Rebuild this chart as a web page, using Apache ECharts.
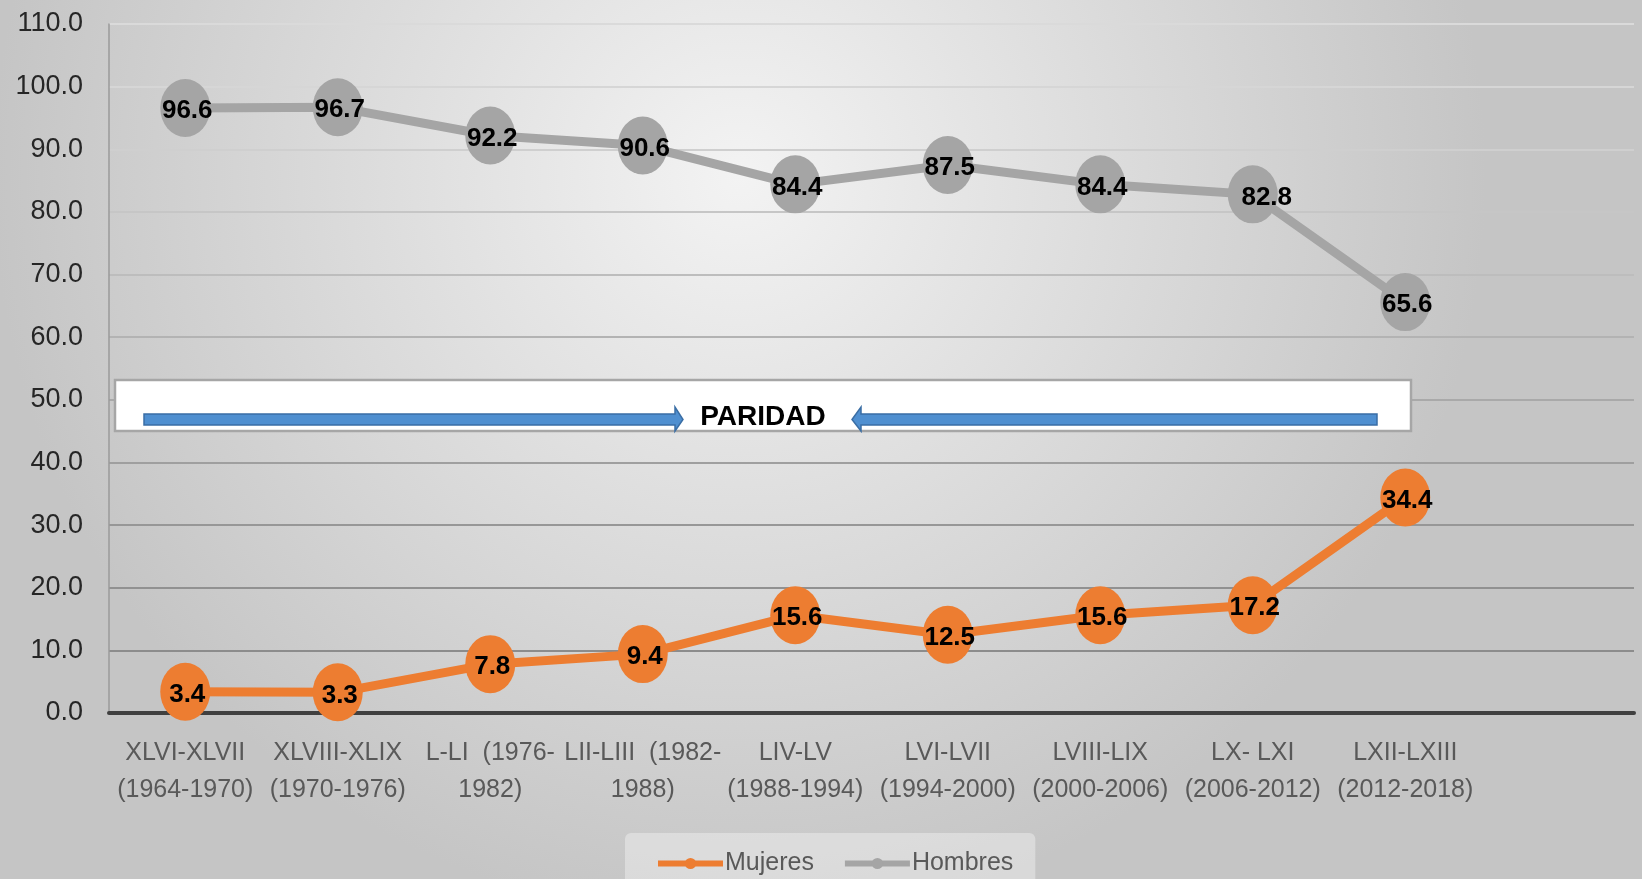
<!DOCTYPE html>
<html>
<head>
<meta charset="utf-8">
<script src="https://cdn.jsdelivr.net/npm/echarts@6/dist/echarts.min.js"></script>
<style>html,body{margin:0;padding:0;}#c{width:1642px;height:879px;}</style>
</head>
<body>
<div id="c"></div>
<script>
const categories = [
  'XLVI-XLVII\n(1964-1970)',
  'XLVIII-XLIX\n(1970-1976)',
  'L-LI  (1976-\n1982)',
  'LII-LIII  (1982-\n1988)',
  'LIV-LV\n(1988-1994)',
  'LVI-LVII\n(1994-2000)',
  'LVIII-LIX\n(2000-2006)',
  'LX- LXI\n(2006-2012)',
  'LXII-LXIII\n(2012-2018)',
  ''
];
const mujeres = [3.4, 3.3, 7.8, 9.4, 15.6, 12.5, 15.6, 17.2, 34.4];
const hombres = [96.6, 96.7, 92.2, 90.6, 84.4, 87.5, 84.4, 82.8, 65.6];
const seriesNames = ['Mujeres', 'Hombres'];
const annotationText = 'PARIDAD';

const chart = echarts.init(document.getElementById('c'));
const FONT = 'Liberation Sans, Arial, sans-serif';

function labelCfg() {
  return {
    show: true, position: 'inside', offset: [2, 3],
    color: '#000', fontSize: 26, fontWeight: 'bold', fontFamily: FONT,
    formatter: p => p.value.toFixed(1)
  };
}

const gridColors = ['#8a8a8a','#8c8c8c','#919191','#979797','#9f9f9f','#a9a9a9','#b3b3b3','#bdbdbd','#c6c6c6','#cfcfcf','#d6d6d6','#dadada'];

const hombresData = hombres.map((v, i) => i === 7 ? {value: v, label: {offset: [14, 3]}} : v);

const option = {
  backgroundColor: {
    type: 'radial', x: 0.45, y: 0.2, r: 0.85,
    colorStops: [{offset: 0, color: '#f3f3f3'}, {offset: 1, color: '#c5c5c5'}]
  },
  animation: false,
  grid: {left: 109, right: 8, top: 24, bottom: 166},
  xAxis: {
    type: 'category', data: categories, boundaryGap: true,
    axisLine: {show: true, lineStyle: {color: '#404040', width: 4}},
    axisTick: {show: false},
    axisLabel: {color: '#595959', fontSize: 25, fontFamily: FONT, lineHeight: 37, margin: 22, interval: 0}
  },
  yAxis: {
    type: 'value', min: 0, max: 110, interval: 10,
    axisLine: {show: true, lineStyle: {color: '#9a9a9a', width: 1.5}},
    axisTick: {show: false},
    axisLabel: {color: '#262626', fontSize: 27, fontFamily: FONT, margin: 26, formatter: v => v.toFixed(1)},
    splitLine: {show: true, lineStyle: {color: gridColors, width: 2}}
  },
  legend: {
    data: seriesNames, left: 625, top: 833,
    padding: [18, 22, 30, 30], itemGap: 28, itemWidth: 65, itemHeight: 14,
    backgroundColor: 'rgba(255,255,255,0.35)', borderRadius: 6,
    textStyle: {color: '#595959', fontSize: 25, fontFamily: FONT, padding: [0, 0, 0, -3]},
    lineStyle: {width: 6}
  },
  series: [
    {
      name: seriesNames[0], type: 'line', data: mujeres,
      symbol: 'circle', symbolSize: [50, 58],
      lineStyle: {color: '#ED7D31', width: 9},
      itemStyle: {color: '#ED7D31'},
      label: labelCfg(), z: 3
    },
    {
      name: seriesNames[1], type: 'line', data: hombresData,
      symbol: 'circle', symbolSize: [50, 58],
      lineStyle: {color: '#A5A5A5', width: 9},
      itemStyle: {color: '#A5A5A5'},
      label: labelCfg(), z: 3
    }
  ],
  graphic: [
    {type: 'rect', z: 10, shape: {x: 115, y: 380, width: 1296, height: 51},
     style: {fill: '#ffffff', stroke: '#a6a6a6', lineWidth: 2.5}},
    {type: 'polygon', z: 11,
     shape: {points: [[144,414],[675,414],[675,407],[683,419.5],[675,431],[675,425],[144,425]]},
     style: {fill: '#4f8fd0', stroke: '#3a6ea5', lineWidth: 1.5}},
    {type: 'polygon', z: 11,
     shape: {points: [[1377,414],[861,414],[861,407],[852,419.5],[861,431],[861,425],[1377,425]]},
     style: {fill: '#4f8fd0', stroke: '#3a6ea5', lineWidth: 1.5}},
    {type: 'text', z: 12, x: 763, y: 417,
     style: {text: annotationText, fill: '#000', font: 'bold 28px ' + FONT, align: 'center', verticalAlign: 'middle'}}
  ]
};
chart.setOption(option);
</script>
</body>
</html>
